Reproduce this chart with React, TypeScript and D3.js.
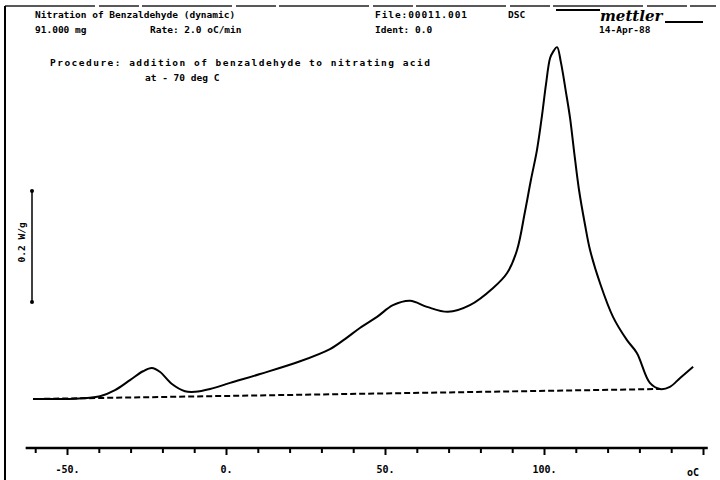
import React, { useEffect, useRef } from 'react';
import * as d3 from 'd3';

// temperature (oC) and specific heat flow (W/g)
const tempC = [
  -60.7, -52.2, -43.7, -39.6, -34.9, -30.2, -26.1, -23.3, -20.8, -17.0, -12.9, -9.7, -5.0, 1.3,
  10.7, 23.3, 32.7, 37.4, 42.1, 47.5, 52.5, 57.9, 63.2, 69.8, 76.7, 84.0, 88.4, 91.5, 94.0, 95.9,
  97.8, 99.4, 100.6, 101.9, 102.8, 104.1, 105.3, 106.9, 108.2, 109.4, 111.0, 112.9, 114.5, 117.6,
  121.7, 126.1, 129.2, 133.3, 136.5, 139.6, 142.8, 146.9,
];
const heatFlow = [
  0.0, 0.0, 0.002, 0.005, 0.016, 0.034, 0.05, 0.056, 0.049, 0.027, 0.014, 0.013, 0.018, 0.029,
  0.045, 0.068, 0.09, 0.108, 0.128, 0.148, 0.169, 0.177, 0.166, 0.157, 0.169, 0.2, 0.227, 0.268,
  0.337, 0.395, 0.449, 0.512, 0.566, 0.614, 0.625, 0.634, 0.607, 0.553, 0.506, 0.449, 0.377, 0.314,
  0.268, 0.209, 0.148, 0.106, 0.083, 0.029, 0.018, 0.022, 0.038, 0.058,
];

// integration baseline (dashed)
const baseT = [-60, 136.5];
const baseV = [0, 0.018];

const tickValues = d3.range(-60, 151, 10);
const labelTicks = [-50, 0, 50, 100];

// scale bar for 0.2 W/g
const barFrom = 0.175;
const barSize = 0.2;

const FONT = '"DejaVu Sans Mono", monospace';

const App = () => {
  const axisRef = useRef<SVGGElement>(null);

  const x = d3.scaleLinear().domain([-50, 150]).range([67, 703]);
  const y = d3.scaleLinear().domain([0, 0.2]).range([399, 288]);

  const line = d3.line<number>()
    .x((d, i) => x(tempC[i]))
    .y((d) => y(d))
    .curve(d3.curveCatmullRom.alpha(0.5));

  const baseLine = d3.line<number>()
    .x((d, i) => x(baseT[i]))
    .y((d) => y(d));

  useEffect(() => {
    const g = d3.select(axisRef.current);
    g.selectAll('*').remove();
    const axis = d3.axisBottom(x)
      .tickValues(tickValues)
      .tickSize(5)
      .tickPadding(13)
      .tickFormat((d) => (labelTicks.includes(+d) ? `${d}.` : ''));
    g.call(axis as any);
    g.select('.domain').remove();
    g.selectAll('.tick line')
      .attr('stroke', '#000')
      .attr('stroke-width', 2)
      .attr('y2', (d: any) => (d % 50 === 0 ? 7 : 5));
    g.selectAll('.tick text')
      .attr('font-family', FONT)
      .attr('font-weight', 'bold')
      .attr('font-size', 10)
      .attr('fill', '#000');
    g.append('line')
      .attr('x1', x(-63)).attr('x2', x(151.5))
      .attr('y1', 0).attr('y2', 0)
      .attr('stroke', '#000').attr('stroke-width', 2.5);
    g.append('text')
      .attr('x', x(150) - 10).attr('y', 28)
      .attr('fill', '#000')
      .attr('font-family', FONT).attr('font-weight', 'bold').attr('font-size', 10)
      .text('oC');
  }, []);

  const txt = { fontFamily: FONT, fontWeight: 'bold' as const, fontSize: 9.5, fill: '#000' };

  return (
    <div style={{ position: 'absolute', left: 0, top: 0 }}>
      <svg width={720} height={480} style={{ display: 'block', background: '#fff' }}>
        {/* frame */}
        <line x1={5} x2={716} y1={6} y2={6} stroke="#222" strokeWidth={1.5} strokeDasharray="90 4 40 3" />
        <line x1={5} x2={5} y1={6} y2={480} stroke="#000" strokeWidth={2} />

        {/* header */}
        <text x={35} y={18} {...txt}>Nitration  of Benzaldehyde (dynamic)</text>
        <text x={35} y={33} {...txt}>91.000 mg</text>
        <text x={150} y={33} {...txt}>Rate: 2.0 oC/min</text>
        <text x={375} y={18} {...txt} textLength={92} lengthAdjust="spacing">File:00011.001</text>
        <text x={375} y={33} {...txt}>Ident: 0.0</text>
        <text x={508} y={18} {...txt}>DSC</text>
        <text x={599} y={33} {...txt}>14-Apr-88</text>
        <line x1={556} x2={600} y1={10} y2={10} stroke="#000" strokeWidth={2} />
        <text x={600} y={21} fontFamily='"DejaVu Serif", serif' fontStyle="italic" fontWeight="bold" fontSize={15} fill="#000">mettler</text>
        <line x1={665} x2={703} y1={22} y2={22} stroke="#000" strokeWidth={2} />

        <text x={50} y={66} {...txt} textLength={380} lengthAdjust="spacing">
          Procedure: addition of benzaldehyde to nitrating acid
        </text>
        <text x={145} y={81} {...txt}>at - 70 deg C</text>

        {/* 0.2 W/g scale bar */}
        <line x1={32} x2={32} y1={y(barFrom)} y2={y(barFrom + barSize)} stroke="#000" strokeWidth={1.5} />
        <circle cx={32} cy={y(barFrom)} r={2} fill="#000" />
        <circle cx={32} cy={y(barFrom + barSize)} r={2} fill="#000" />
        <text
          transform={`translate(25, ${y(barFrom + barSize / 2) - 4}) rotate(-90)`}
          textAnchor="middle"
          {...txt}
        >
          0.2 W/g
        </text>

        {/* baseline and curve */}
        <path d={baseLine(baseV) ?? ''} fill="none" stroke="#000" strokeWidth={2} strokeDasharray="6 3" />
        <path d={line(heatFlow) ?? ''} fill="none" stroke="#000" strokeWidth={2} />

        <g ref={axisRef} transform="translate(0, 448)" />
      </svg>
    </div>
  );
};

export default App;
